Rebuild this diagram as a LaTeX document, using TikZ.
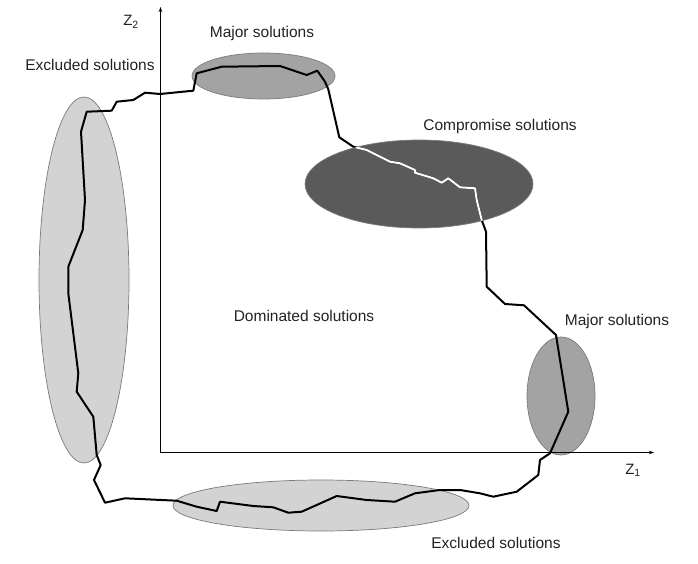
\documentclass[tikz,border=0pt]{standalone}
\usepackage{fontspec}
\setmainfont{Liberation Sans}
\usetikzlibrary{arrows.meta}
\definecolor{lightfill}{HTML}{D3D3D3}
\definecolor{midfill}{HTML}{A3A3A3}
\definecolor{darkfill}{HTML}{5A5A5A}
\definecolor{edgegray}{HTML}{7A7A7A}
\definecolor{txt}{HTML}{222222}
\tikzset{
  lbl/.style={font=\fontsize{15.5}{18}\selectfont, text=txt, inner sep=0pt},
  axislabel/.style={font=\fontsize{15}{18}\selectfont, text=txt, inner sep=0pt},
  blob/.style={draw=edgegray, line width=0.7pt},
  front/.style={line width=2pt, line join=round},
  axis/.style={line width=1.1pt, -{Stealth[length=5pt,width=3.5pt]}}
}
\begin{document}
\begin{tikzpicture}[x=1pt,y=-1pt]
\useasboundingbox (0,0) rectangle (698,564);
% ellipses
\path[blob, fill=lightfill] (84,280) ellipse [x radius=45, y radius=183];
\path[blob, fill=lightfill] (321,505.5) ellipse [x radius=148, y radius=25.5];
\path[blob, fill=midfill] (263.5,76) ellipse [x radius=71.5, y radius=23];
\path[blob, fill=midfill] (561,396) ellipse [x radius=34, y radius=59];
\path[blob, fill=darkfill] (419,184) ellipse [x radius=114, y radius=44];
% axes
\coordinate (O) at (160.5,452.5);
\coordinate (ytop) at (160.5,7);
\coordinate (xend) at (654,452.5);
\draw[axis] (O) -- (ytop);
\draw[axis] (O) -- (xend);
\node[axislabel] (z2) at (131,22) {Z\textsubscript{2}};
\node[axislabel] (z1) at (633,470) {Z\textsubscript{1}};
% front curve
\def\frontpath{(85,200) -- (81,131.7) -- (86.7,111.7) -- (111.7,110.7) -- (116.7,101.7) -- (133.3,100) -- (145,92.7) -- (160,94) -- (193.3,90.7) -- (196.7,73.3) -- (221.7,66.7) -- (280,66) -- (306.7,75) -- (317.3,70.7) -- (325,81.7) -- (328.3,89.3) -- (339.3,137.3) -- (353.3,146.7) -- (366.7,150) -- (390,161.7) -- (400,163.3) -- (415,170) -- (415,172.7) -- (433.3,178.3) -- (441.7,182.7) -- (448.3,178.3) -- (460,187.3) -- (475,188.3) -- (476.7,200) -- (481.7,220) -- (486,231.7) -- (486.7,286.7) -- (505,304) -- (524,305.3) -- (556,335) -- (568.3,411.7) -- (550,453.3) -- (540,460) -- (538.3,475) -- (516.7,491.7) -- (493.3,496.7) -- (480,493.3) -- (460,490) -- (440,490) -- (415,493.3) -- (395,501.7) -- (366.7,500) -- (336.7,496) -- (301.7,511.7) -- (288.3,512.7) -- (273.3,507.3) -- (253.3,506) -- (220,501.7) -- (216.7,511) -- (196.7,506.7) -- (176.7,500.7) -- (125,498.3) -- (105,502.7) -- (94,480) -- (100.7,465) -- (96.7,455) -- (93.3,416.7) -- (76.7,391.7) -- (78.3,373.3) -- (68.3,293.3) -- (68.3,266.7) -- (82.7,230) -- cycle}
\draw[front] \frontpath;
\begin{scope}
  \clip (419,184) ellipse [x radius=114, y radius=44];
  \draw[front, white] \frontpath;
\end{scope}
% labels
\node[lbl] (exTop) at (90,65) {Excluded solutions};
\node[lbl] (majTop) at (262,33) {Major solutions};
\node[lbl] (comp) at (500,126) {Compromise solutions};
\node[lbl] (dom) at (304,316) {Dominated solutions};
\node[lbl] (majRight) at (617,321) {Major solutions};
\node[lbl] (exBot) at (496,543) {Excluded solutions};
\end{tikzpicture}
\end{document}
